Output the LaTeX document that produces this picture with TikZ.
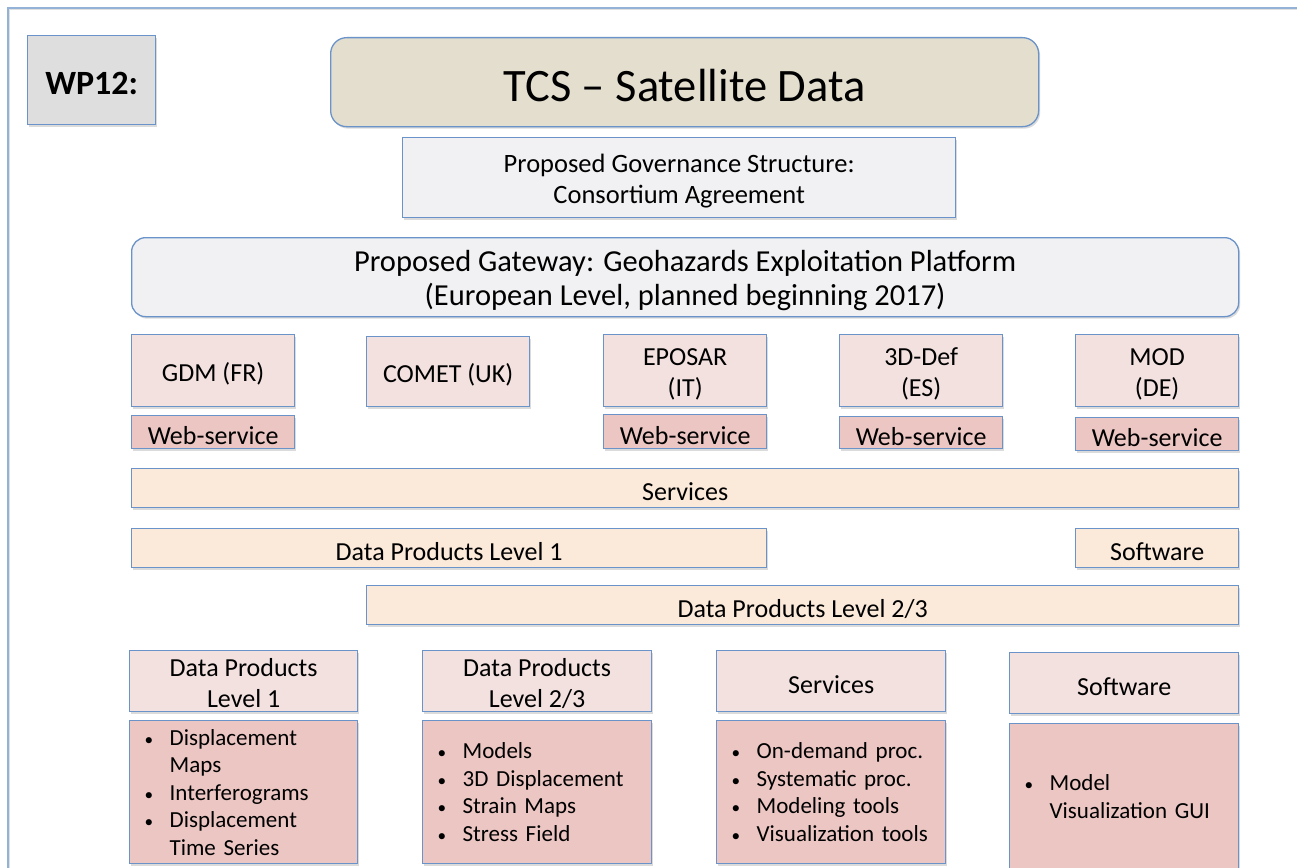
\documentclass[tikz,border=0pt]{standalone}
\usepackage{fontspec}
\setmainfont{Carlito}
\usetikzlibrary{shadows}
\definecolor{bordc}{HTML}{6A93C9}
\definecolor{framec}{HTML}{92B2D8}
\definecolor{wpfill}{HTML}{DEDEDE}
\definecolor{tcsfill}{HTML}{E3DECE}
\definecolor{govfill}{HTML}{F1F1F3}
\definecolor{pinkl}{HTML}{F2E1DF}
\definecolor{pinkd}{HTML}{EBC6C2}
\definecolor{peach}{HTML}{FBE9DA}
\newcommand\bi[1]{\mbox{\makebox[26pt][l]{\hspace{1pt}\scalebox{0.75}{•}}#1}}
\newcommand\ci[1]{\mbox{\hspace*{26pt}#1}}
\newcommand\tx[3][]{\node[txt,#1] at ([yshift=-3.5pt]#2.center) {#3};}
\begin{document}
\begin{tikzpicture}[x=1pt,y=-1pt,
  box/.style={draw=bordc, line width=1.3pt, inner sep=0pt, anchor=north west,
    drop shadow={opacity=0.28, shadow xshift=1.5pt, shadow yshift=-2pt}},
  txt/.style={inner sep=0pt, align=center, font=\fontsize{26}{31}\selectfont},
  partner/.style={box, fill=pinkl, minimum width=163pt, minimum height=72pt},
  websvc/.style={box, fill=pinkd, minimum width=163pt},
  bar/.style={box, fill=peach, minimum height=39pt},
  header/.style={box, fill=pinkl, minimum width=229pt, minimum height=61pt},
  content/.style={box, fill=pinkd, minimum width=229pt, text width=201pt, align=left, font=\fontsize{23}{27.5}\selectfont}
]
\useasboundingbox (0,0) rectangle (1297,867);
\fill[white] (0,0) rectangle (1297,867);
% outer frame
\draw[black!12, line width=1.6pt] (9.5,870) -- (9.5,9.5) -- (1300,9.5);
\draw[framec, line width=1.3pt] (8,870) -- (8,8) -- (1300,8);

\node[box, fill=wpfill, minimum width=128pt, minimum height=89pt] (wp) at (27,35) {};
\tx[font=\fontsize{34}{38}\selectfont\bfseries]{wp}{WP12:}
\node[box, fill=tcsfill, rounded corners=16pt, minimum width=708pt, minimum height=89pt] (tcs) at (330,37) {};
\tx[font=\fontsize{46.5}{50}\selectfont]{tcs}{TCS – Satellite Data}
\node[box, fill=govfill, minimum width=553pt, minimum height=80pt] (gov) at (402,137) {};
\tx[font=\fontsize{26.5}{31}\selectfont]{gov}{Proposed Governance Structure:\\Consortium Agreement}
\node[box, fill=govfill, rounded corners=14pt, minimum width=1107pt, minimum height=79pt] (gate) at (131,237) {};
\tx[font=\fontsize{30.5}{34}\selectfont]{gate}{Proposed Gateway: Geohazards Exploitation Platform\\(European Level, planned beginning 2017)}

\node[partner] (gdm) at (131,334) {};
\tx{gdm}{GDM (FR)}
\node[websvc, minimum height=33pt] (ws1) at (131,415) {};
\tx{ws1}{Web-service}
\node[partner, minimum height=70pt] (comet) at (366,336) {};
\tx{comet}{COMET (UK)}
\node[partner] (eposar) at (603,334) {};
\tx{eposar}{EPOSAR\\(IT)}
\node[websvc, minimum height=34pt] (ws2) at (603,414) {};
\tx{ws2}{Web-service}
\node[partner] (def) at (839,334) {};
\tx{def}{3D-Def\\(ES)}
\node[websvc, minimum height=32pt] (ws3) at (839,416) {};
\tx{ws3}{Web-service}
\node[partner] (mod) at (1075,334) {};
\tx{mod}{MOD\\(DE)}
\node[websvc, minimum height=33pt] (ws4) at (1075,417) {};
\tx{ws4}{Web-service}

\node[bar, minimum width=1107pt] (svc) at (131,468) {};
\tx{svc}{Services}
\node[bar, minimum width=635pt] (dp1) at (131,528) {};
\tx{dp1}{Data Products Level 1}
\node[bar, minimum width=163pt] (sw) at (1075,528) {};
\tx{sw}{Software}
\node[bar, minimum width=872pt] (dp23) at (366,585) {};
\tx{dp23}{Data Products Level 2/3}

\node[header, minimum width=228pt] (h1) at (129,650) {};
\tx[yshift=1.5pt]{h1}{Data Products\\Level 1}
\node[header] (h2) at (422,650) {};
\tx[yshift=1.5pt]{h2}{Data Products\\Level 2/3}
\node[header] (h3) at (716,650) {};
\tx{h3}{Services}
\node[header] (h4) at (1009,652) {};
\tx{h4}{Software}

\node[content, minimum width=228pt, text width=200pt, minimum height=143pt] (c1) at (129,720)
  {\bi{Displacement}\\\ci{Maps}\\\bi{Interferograms}\\\bi{Displacement}\\\ci{Time Series}};
\node[content, minimum height=143pt] (c2) at (422,720)
  {\bi{Models}\\\bi{3D Displacement}\\\bi{Strain Maps}\\\bi{Stress Field}};
\node[content, minimum height=143pt] (c3) at (716,720)
  {\bi{On-demand proc.}\\\bi{Systematic proc.}\\\bi{Modeling tools}\\\bi{Visualization tools}};
\node[content, minimum height=146pt] (c4) at (1009,723)
  {\bi{Model}\\\ci{Visualization GUI}};
\end{tikzpicture}
\end{document}
